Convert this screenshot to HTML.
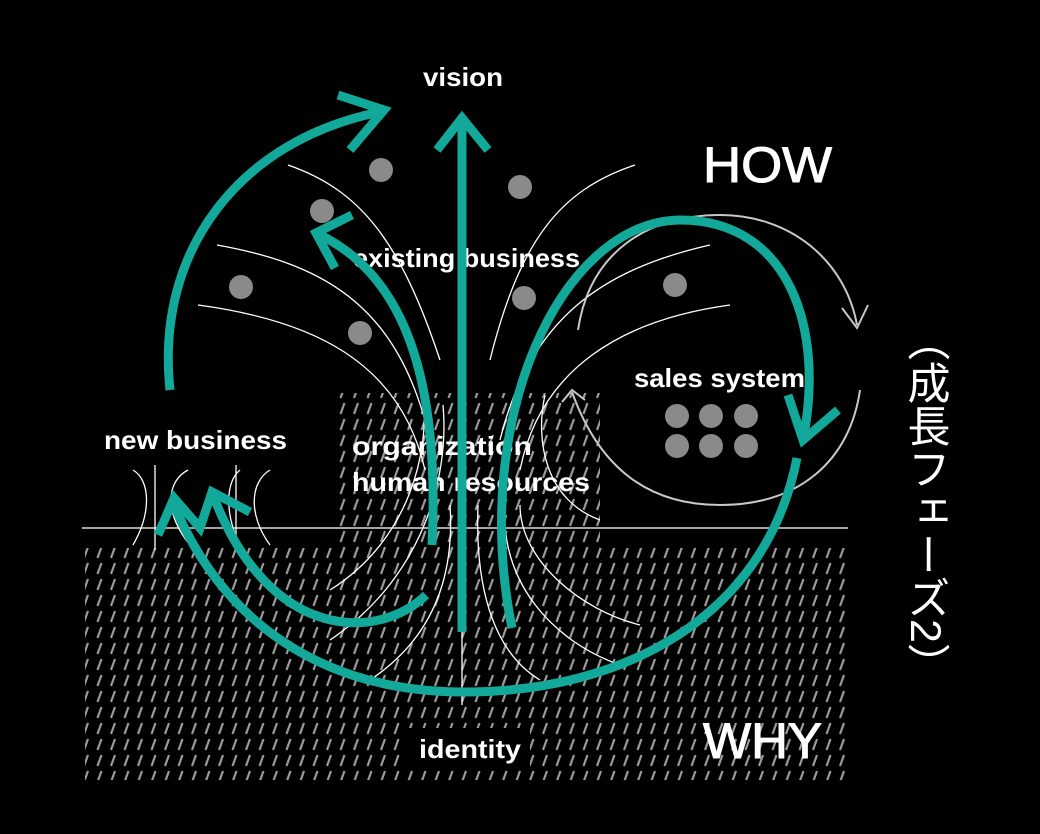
<!DOCTYPE html>
<html><head><meta charset="utf-8"><style>
html,body{margin:0;padding:0;background:#000;}
svg{display:block}
text{font-family:"Liberation Sans","Noto Sans CJK JP",sans-serif;fill:#fff}
.l{font-weight:bold;font-size:26px}
</style></head><body>
<svg width="1040" height="834" viewBox="0 0 1040 834" xmlns="http://www.w3.org/2000/svg">
<defs>
<pattern id="h" width="13.5" height="16" patternUnits="userSpaceOnUse">
<line x1="3" y1="14" x2="7" y2="3" stroke="#9a9a9a" stroke-width="2.2"/>
</pattern>
</defs>
<rect width="1040" height="834" fill="#000"/>
<rect x="85" y="548" width="765" height="232" fill="url(#h)"/>
<rect x="335" y="393" width="265" height="156" fill="url(#h)"/>
<rect x="405" y="728" width="125" height="40" fill="#000"/>
<line x1="82" y1="528" x2="848" y2="528" stroke="#ddd" stroke-width="1.5"/>
<g fill="none" stroke="#fff" stroke-width="1.3">
<line x1="462" y1="630" x2="462" y2="705"/>
<path d="M288,165 C360,190 400,240 440,360"/>
<path d="M217,245 C330,265 400,310 430,440"/>
<path d="M198,305 C310,320 400,360 425,470"/>
<path d="M635,165 C560,190 520,240 490,360"/>
<path d="M710,245 C600,270 530,320 500,440"/>
<path d="M730,305 C620,320 540,370 520,470"/>
<path d="M423,395 C430,450 410,540 330,590"/>
<path d="M443,405 C450,480 420,580 330,640"/>
<path d="M450,505 C455,580 430,640 370,680"/>
<path d="M478,505 C475,580 490,650 540,680"/>
<path d="M505,505 C500,580 550,640 620,665"/>
<path d="M520,505 C520,560 580,610 640,625"/>
<path d="M545,395 C535,440 545,500 600,520"/>
<path d="M133,470 C150,480 152,512 133,545"/>
<path d="M188,470 C165,482 165,515 190,545"/>
<path d="M240,470 C225,482 225,515 240,545"/>
<path d="M270,470 C250,482 248,515 270,545"/>
<line x1="155" y1="465" x2="155" y2="550"/>
<line x1="236" y1="465" x2="236" y2="550"/>
</g>
<g fill="none" stroke="#c8c8c8" stroke-width="2">
<path d="M578,330 C590,250 650,215 720,215 C790,215 845,260 857,325"/>
<path d="M842,308 L857,328 L868,305"/>
<path d="M572,392 C600,470 650,505 720,505 C800,505 850,460 860,390"/>
<path d="M562,402 L572,390 L585,400"/>
</g>
<g fill="#8a8a8a">
<circle cx="381" cy="170" r="12"/><circle cx="520" cy="187" r="12"/>
<circle cx="322" cy="211" r="12"/><circle cx="241" cy="287" r="12"/>
<circle cx="360" cy="333" r="12"/><circle cx="524" cy="298" r="12"/>
<circle cx="675" cy="285" r="12"/>
<circle cx="677" cy="416" r="12"/><circle cx="711" cy="416" r="12"/><circle cx="746" cy="416" r="12"/>
<circle cx="677" cy="446" r="12"/><circle cx="711" cy="446" r="12"/><circle cx="746" cy="446" r="12"/>
</g>
<text class="l" x="423" y="86" textLength="80" lengthAdjust="spacingAndGlyphs">vision</text>
<text x="703" y="182" font-size="50" stroke="#fff" stroke-width="1" textLength="129" lengthAdjust="spacingAndGlyphs">HOW</text>
<text x="703" y="758" font-size="50" stroke="#fff" stroke-width="1" textLength="119" lengthAdjust="spacingAndGlyphs">WHY</text>
<text class="l" x="353" y="267" textLength="227" lengthAdjust="spacingAndGlyphs">existing business</text>
<text class="l" x="634" y="387" textLength="171" lengthAdjust="spacingAndGlyphs">sales system</text>
<text class="l" x="104" y="449" textLength="183" lengthAdjust="spacingAndGlyphs">new business</text>
<text class="l" x="352" y="455" textLength="180" lengthAdjust="spacingAndGlyphs">organization</text>
<text class="l" x="352" y="491" textLength="238" lengthAdjust="spacingAndGlyphs">human resources</text>
<text class="l" x="419" y="758" textLength="102" lengthAdjust="spacingAndGlyphs">identity</text>
<text x="925" y="318" font-size="43" style="writing-mode:vertical-rl">（成長フェーズ2）</text>
<g fill="none" stroke="#12a89a" stroke-width="9" stroke-linecap="butt" stroke-linejoin="miter">
<path d="M170,390 C155,250 240,140 380,112"/>
<path d="M338,95 L384,110 L350,150"/>
<path d="M462,632 L462,120"/>
<path d="M437,150 L462,118 L488,150"/>
<path d="M432,545 C440,380 405,275 318,234"/>
<path d="M352,215 L316,233 L335,268"/>
<path d="M512,628 C470,420 560,222 680,220 C790,220 825,330 803,440"/>
<path d="M788,395 L803,440 L838,410"/>
<path d="M797,458 C765,620 620,692 465,692 C320,692 220,620 172,500"/>
<path d="M158,535 L174,498 L200,528 L212,492 L250,512"/>
<path d="M426,595 C380,640 270,645 213,495"/>
</g>
</svg>
</body></html>
